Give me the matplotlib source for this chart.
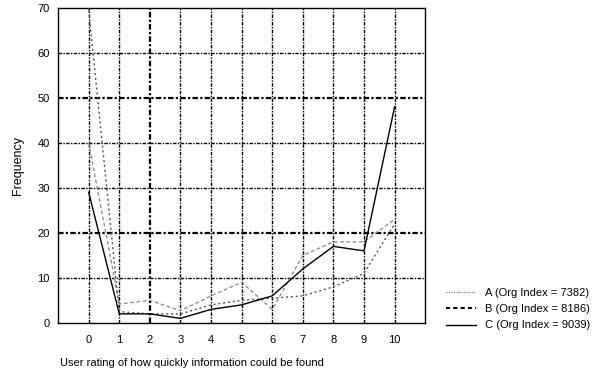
import matplotlib
matplotlib.use('Agg')
import matplotlib.pyplot as plt
import numpy as np

plt.rcParams['font.family'] = ['Liberation Sans', 'DejaVu Sans']

ratings = np.arange(0, 11)
a_vals = [40, 4.2, 5, 2.7, 6, 9, 3, 15, 18, 18, 23]
b_vals = [69.5, 2.5, 2, 2, 4, 5, 5.5, 6, 8, 11, 22]
c_vals = [29, 2, 2, 1, 3, 4, 6, 12, 17, 16, 48]
labels = ['A (Org Index = 7382)', 'B (Org Index = 8186)', 'C (Org Index = 9039)']

fig = plt.figure(figsize=(5.93, 3.75), dpi=100)
ax = fig.add_axes([0.098, 0.139, 0.619, 0.84])

# 网格线
grid_ls = (0, (2.5, 1, 1, 1))
for x in ratings:
    ax.axvline(x, color='black', lw=1.6 if x == 2 else 1.0, ls=grid_ls, zorder=1)
for y in range(10, 70, 10):
    ax.axhline(y, color='black', lw=1.6 if y in (20, 50) else 1.0, ls=grid_ls, zorder=1)

ax.plot(ratings, a_vals, color='#888888', lw=0.9, ls=(0, (3, 2)), zorder=3, label=labels[0])
ax.plot(ratings, b_vals, color='#555555', lw=1.0, ls=(0, (1.5, 2)), zorder=3, label=labels[1])
ax.plot(ratings, c_vals, color='black', lw=1.0, zorder=4, label=labels[2])

ax.set_xlim(-1, 11)
ax.set_ylim(0, 70)
ax.set_xticks(ratings)
ax.set_yticks(range(0, 80, 10))
ax.tick_params(length=0, labelsize=8, pad=9)
ax.tick_params(axis='y', pad=6)
for s in ax.spines.values():
    s.set_linewidth(1.0)

ax.set_ylabel('Frequency', fontsize=9, labelpad=10)
fig.text(0.101, 0.02, 'User rating of how quickly information could be found', fontsize=8, ha='left', va='bottom')

# 图例
leg_ax = fig.add_axes([0.745, 0.10, 0.25, 0.15])
leg_ax.axis('off')
h_a, = leg_ax.plot([], [], color='#888888', lw=0.9, ls=(0, (1, 1)))
h_b, = leg_ax.plot([], [], color='black', lw=1.5, ls=(0, (2, 1.5)))
h_c, = leg_ax.plot([], [], color='black', lw=1.0)
leg_ax.legend([h_a, h_b, h_c], labels, loc='center left', frameon=False,
              fontsize=8, handlelength=2.7, handletextpad=0.8, labelspacing=0.55,
              borderaxespad=0, bbox_to_anchor=(0, 0.5))

fig.savefig('out.png', dpi=100)
